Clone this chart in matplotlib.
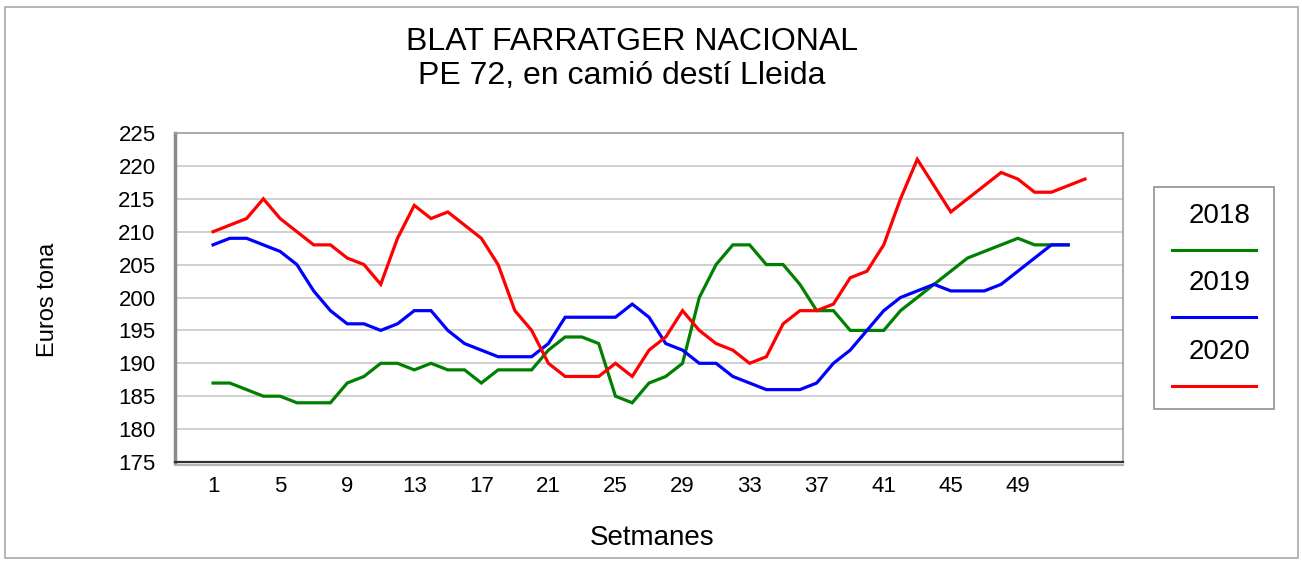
import matplotlib.pyplot as plt
from matplotlib.patches import Rectangle
from matplotlib.lines import Line2D

plt.rcParams['font.family'] = ['Liberation Sans', 'DejaVu Sans']

# Preu setmanal del blat farratger (euros/tona)
setmanes = list(range(1, 54))
anys = ['2018', '2019', '2020']
colors = ['#008000', '#0000ff', '#ff0000']

preu_2018 = [187, 187, 186, 185, 185, 184, 184, 184, 187, 188, 190, 190, 189,
             190, 189, 189, 187, 189, 189, 189, 192, 194, 194, 193, 185, 184,
             187, 188, 190, 200, 205, 208, 208, 205, 205, 202, 198, 198, 195,
             195, 195, 198, 200, 202, 204, 206, 207, 208, 209, 208, 208, 208]
preu_2019 = [208, 209, 209, 208, 207, 205, 201, 198, 196, 196, 195, 196, 198,
             198, 195, 193, 192, 191, 191, 191, 193, 197, 197, 197, 197, 199,
             197, 193, 192, 190, 190, 188, 187, 186, 186, 186, 187, 190, 192,
             195, 198, 200, 201, 202, 201, 201, 201, 202, 204, 206, 208, 208]
preu_2020 = [210, 211, 212, 215, 212, 210, 208, 208, 206, 205, 202, 209, 214,
             212, 213, 211, 209, 205, 198, 195, 190, 188, 188, 188, 190, 188,
             192, 194, 198, 195, 193, 192, 190, 191, 196, 198, 198, 199, 203,
             204, 208, 215, 221, 217, 213, 215, 217, 219, 218, 216, 216, 217,
             218]
series = [preu_2018, preu_2019, preu_2020]

fig = plt.figure(figsize=(13.02, 5.61), dpi=100)
ax = fig.add_axes([175 / 1302, 1 - 462 / 561, 948 / 1302, 329 / 561])

for valors, any_, c in zip(series, anys, colors):
    ax.plot(setmanes[:len(valors)], valors, color=c, lw=2.3, label=any_,
            solid_joinstyle='miter', zorder=3)

ax.set_xlim(-1.27, 55.27)
ax.set_ylim(175, 225)
ax.set_yticks(range(175, 226, 5))
ax.set_xticks(setmanes[:49:4])
ax.yaxis.grid(True, color='#c8c8c8', lw=1.2)
ax.set_axisbelow(True)
ax.tick_params(axis='both', length=0, labelsize=16)
ax.tick_params(axis='y', pad=14)
ax.tick_params(axis='x', pad=10)

for s in ['top', 'right']:
    ax.spines[s].set_color('#a0a0a0')
    ax.spines[s].set_linewidth(1.2)
ax.spines['left'].set_color('#8a8a8a')
ax.spines['left'].set_linewidth(2.5)
ax.spines['bottom'].set_color('#303030')
ax.spines['bottom'].set_linewidth(1.6)
# ombra sota l'eix horitzontal
ax.plot([0, 1], [-0.008, -0.008], transform=ax.transAxes, color='#b4b4b4',
        lw=1.6, clip_on=False)

# títols i etiquetes dels eixos
fig.text(632 / 1302, 1 - 42 / 561, 'BLAT FARRATGER NACIONAL', ha='center',
         va='center', fontsize=23)
fig.text(622 / 1302, 1 - 76 / 561, 'PE 72, en camió destí Lleida',
         ha='center', va='center', fontsize=23)
fig.text(652 / 1302, 1 - 538 / 561, 'Setmanes', ha='center', va='center',
         fontsize=20)
fig.text(48 / 1302, 1 - 300 / 561, 'Euros tona', ha='center', va='center',
         rotation=90, fontsize=17)

# llegenda: text a sobre de cada línia
fig.patches.append(Rectangle((1154 / 1302, 1 - 409 / 561), 120 / 1302,
                             222 / 561, transform=fig.transFigure,
                             fill=False, edgecolor='#909090', lw=1.2))
y_text = [216, 283, 352]
for any_, c, yt in zip(anys, colors, y_text):
    fig.text(1220 / 1302, 1 - yt / 561, any_, ha='center', va='center',
             fontsize=20)
    yl = 1 - (yt + 34) / 561
    fig.lines.append(Line2D([1172 / 1302, 1256 / 1302], [yl, yl],
                            transform=fig.transFigure, color=c, lw=2.2))

# marc exterior del gràfic
fig.patches.append(Rectangle((5 / 1302, 3 / 561), 1293 / 1302, 551 / 561,
                             transform=fig.transFigure, fill=False,
                             edgecolor='#a8a8a8', lw=1.2))

fig.savefig('out.png', dpi=100)
